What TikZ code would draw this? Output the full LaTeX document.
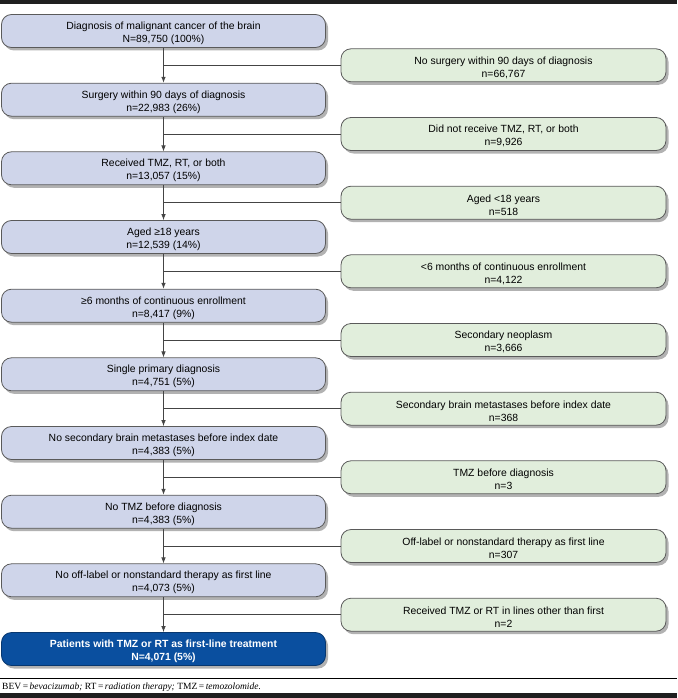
\documentclass[tikz,border=0pt]{standalone}
\usepackage{fontspec}
\setmainfont{Liberation Sans}
\newfontfamily\notefont{Liberation Serif}
\usetikzlibrary{arrows.meta,shadows}
\definecolor{lboxc}{HTML}{CFD5EA}
\definecolor{rboxc}{HTML}{E1EEDC}
\definecolor{blueboxc}{HTML}{0A4F9F}
\definecolor{edgec}{HTML}{5A5A5A}
\definecolor{linec}{HTML}{444444}
\newcommand{\toppad}{\rule{0pt}{12pt}}
\begin{document}
\begin{tikzpicture}[x=1pt,y=-1pt,
  basebox/.style={draw=edgec, line width=0.8pt, rounded corners=10pt,
    minimum height=33pt, align=center, inner sep=0pt,
    font=\fontsize{10.4}{13}\selectfont,
    drop shadow={shadow xshift=2.5pt, shadow yshift=-3pt, fill=black, opacity=0.3}},
  leftbox/.style={basebox, fill=lboxc, minimum width=324pt},
  rightbox/.style={basebox, fill=rboxc, minimum width=325pt},
  finalbox/.style={basebox, fill=blueboxc, draw=blueboxc!70!black, minimum width=324pt,
    text=white, font=\fontsize{10.4}{13}\selectfont\bfseries},
  flow/.style={draw=linec, line width=0.7pt},
  arr/.style={flow, -{Latex[length=6pt,width=4.5pt]}}
]
\useasboundingbox (0,0) rectangle (677,698);
\fill[black!88] (0,0) rectangle (677,4);

\node[leftbox] (L1) at (163.5,31) {\toppad Diagnosis of malignant cancer of the brain\\N=89,750 (100\%)};
\node[leftbox] (L2) at (163.5,99.7) {\toppad Surgery within 90 days of diagnosis\\n=22,983 (26\%)};
\node[leftbox] (L3) at (163.5,168.3) {\toppad Received TMZ, RT, or both\\n=13,057 (15\%)};
\node[leftbox] (L4) at (163.5,237) {\toppad Aged ≥18 years\\n=12,539 (14\%)};
\node[leftbox] (L5) at (163.5,305.7) {\toppad ≥6 months of continuous enrollment\\n=8,417 (9\%)};
\node[leftbox] (L6) at (163.5,374.3) {\toppad Single primary diagnosis\\n=4,751 (5\%)};
\node[leftbox] (L7) at (163.5,443) {\toppad No secondary brain metastases before index date\\n=4,383 (5\%)};
\node[leftbox] (L8) at (163.5,511.7) {\toppad No TMZ before diagnosis\\n=4,383 (5\%)};
\node[leftbox] (L9) at (163.5,580.3) {\toppad No off-label or nonstandard therapy as first line\\n=4,073 (5\%)};
\node[finalbox] (L10) at (163.5,649) {\toppad Patients with TMZ or RT as first-line treatment\\N=4,071 (5\%)};

\node[rightbox] (R1) at (503.5,65.3) {\toppad No surgery within 90 days of diagnosis\\n=66,767};
\node[rightbox] (R2) at (503.5,134) {\toppad Did not receive TMZ, RT, or both\\n=9,926};
\node[rightbox] (R3) at (503.5,202.7) {\toppad Aged <18 years\\n=518};
\node[rightbox] (R4) at (503.5,271.3) {\toppad <6 months of continuous enrollment\\n=4,122};
\node[rightbox] (R5) at (503.5,340) {\toppad Secondary neoplasm\\n=3,666};
\node[rightbox] (R6) at (503.5,408.7) {\toppad Secondary brain metastases before index date\\n=368};
\node[rightbox] (R7) at (503.5,477.3) {\toppad TMZ before diagnosis\\n=3};
\node[rightbox] (R8) at (503.5,546) {\toppad Off-label or nonstandard therapy as first line\\n=307};
\node[rightbox] (R9) at (503.5,614.7) {\toppad Received TMZ or RT in lines other than first\\n=2};

\foreach \a/\b/\r in {L1/L2/R1,L2/L3/R2,L3/L4/R3,L4/L5/R4,L5/L6/R5,L6/L7/R6,L7/L8/R7,L8/L9/R8,L9/L10/R9}{
  \draw[arr] (\a.south) -- (\b.north);
  \draw[flow] (\r.west) -- (\r.west -| \a.south);
}

\draw[black, line width=0.8pt] (0,678) -- (677,678);
\node[anchor=west, inner sep=0pt, font=\notefont\fontsize{9.5}{11}\selectfont] (fn) at (2,687)
  {BEV\,=\,\textit{bevacizumab;} RT\,=\,\textit{radiation therapy;} TMZ\,=\,\textit{temozolomide.}};
\fill[black!88] (0,693) rectangle (677,698);
\end{tikzpicture}
\end{document}
